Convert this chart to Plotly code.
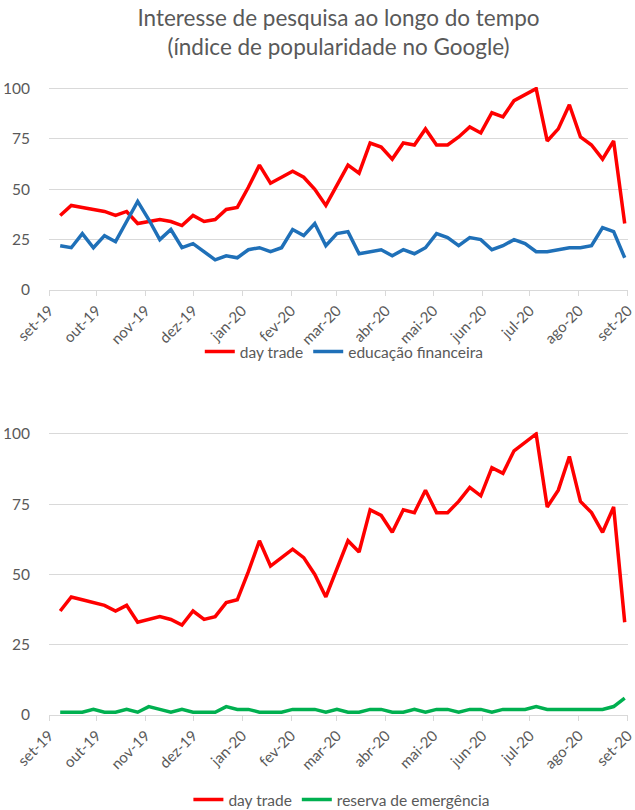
import pandas as pd
import plotly.graph_objects as go

# weekly dates (Google Trends weeks, Sundays)
weeks = pd.date_range("2019-09-08", "2020-08-30", freq="7D")

day_trade = [37, 42, 41, 40, 39, 37, 39, 33, 34, 35, 34, 32, 37, 34, 35, 40, 41, 51,
             62, 53, 56, 59, 56, 50, 42, 52, 62, 58, 73, 71, 65, 73, 72, 80, 72, 72,
             76, 81, 78, 88, 86, 94, 97, 100, 74, 80, 92, 76, 72, 65, 74, 33]

educacao_financeira = [22, 21, 28, 21, 27, 24, 34, 44, 35, 25, 30, 21, 23, 19, 15, 17, 16, 20,
                       21, 19, 21, 30, 27, 33, 22, 28, 29, 18, 19, 20, 17, 20, 18, 21, 28, 26,
                       22, 26, 25, 20, 22, 25, 23, 19, 19, 20, 21, 21, 22, 31, 29, 16]

reserva_emergencia = [1, 1, 1, 2, 1, 1, 2, 1, 3, 2, 1, 2, 1, 1, 1, 3, 2, 2,
                      1, 1, 1, 2, 2, 2, 1, 2, 1, 1, 2, 2, 1, 1, 2, 1, 2, 2,
                      1, 2, 2, 1, 2, 2, 2, 3, 2, 2, 2, 2, 2, 2, 3, 6]

month_ticks = pd.date_range("2019-09-01", "2020-09-01", freq="MS")
month_labels = ["set-19", "out-19", "nov-19", "dez-19", "jan-20", "fev-20", "mar-20",
                "abr-20", "mai-20", "jun-20", "jul-20", "ago-20", "set-20"]
y_ticks = [0, 25, 50, 75, 100]

title_text = "Interesse de pesquisa ao longo do tempo<br>(índice de popularidade no Google)"

RED = "#FF0000"
BLUE = "#1F70B8"
GREEN = "#00B050"
GREY_TXT = "#595959"
GRID = "#D9D9D9"
FONT = "Lato, Open Sans, sans-serif"

fig = go.Figure()
fig.add_trace(go.Scatter(x=weeks, y=day_trade, mode="lines", name="day trade",
                         line=dict(color=RED, width=3.5), xaxis="x", yaxis="y", legend="legend"))
fig.add_trace(go.Scatter(x=weeks, y=educacao_financeira, mode="lines", name="educação financeira",
                         line=dict(color=BLUE, width=3.5), xaxis="x", yaxis="y", legend="legend"))
fig.add_trace(go.Scatter(x=weeks, y=day_trade, mode="lines", name="day trade",
                         line=dict(color=RED, width=3.5), xaxis="x2", yaxis="y2", legend="legend2"))
fig.add_trace(go.Scatter(x=weeks, y=reserva_emergencia, mode="lines", name="reserva de emergência",
                         line=dict(color=GREEN, width=3.5), xaxis="x2", yaxis="y2", legend="legend2"))

H = 810
T, B = 87, 95
ph = H - T - B

def frac(px):
    return (H - B - px) / ph

x_range = [month_ticks[0] - pd.Timedelta(hours=2), month_ticks[-1] + pd.Timedelta(hours=2)]

xcommon = dict(type="date", range=x_range, tickmode="array",
               tickvals=list(month_ticks), ticktext=month_labels, tickangle=-45,
               showgrid=False, showline=True, linecolor=GRID, linewidth=1,
               ticks="outside", ticklen=5, tickcolor=GRID, automargin=False,
               ticklabeloverflow="allow",
               tickfont=dict(size=15, color=GREY_TXT, family=FONT), zeroline=False)
ycommon = dict(range=[0, 100.8], tickmode="array", tickvals=y_ticks, showgrid=True,
               gridcolor=GRID, gridwidth=1, zeroline=False, showline=False, automargin=False,
               tickfont=dict(size=15.5, color=GREY_TXT, family=FONT), ticklabelstandoff=18)

lfont = dict(size=15.5, color=GREY_TXT, family=FONT)

fig.update_layout(
    template="none",
    width=635, height=H,
    margin=dict(l=49, r=7, t=T, b=B, autoexpand=False),
    paper_bgcolor="white", plot_bgcolor="white",
    title=dict(text=title_text, x=0.5, xanchor="center", xref="paper",
               y=1 - 26 / H, yref="container", yanchor="middle", automargin=False,
               font=dict(size=22.5, color=GREY_TXT, family=FONT)),
    xaxis=dict(domain=[0, 1], anchor="y", **xcommon),
    yaxis=dict(domain=[frac(290), 1], anchor="x", **ycommon),
    xaxis2=dict(domain=[0, 1], anchor="y2", **xcommon),
    yaxis2=dict(domain=[0, frac(431.7)], anchor="x2", **ycommon),
    legend=dict(orientation="h", x=0.51, xanchor="center", y=frac(352), yanchor="middle",
                font=lfont, bgcolor="rgba(0,0,0,0)", tracegroupgap=0),
    legend2=dict(orientation="h", x=0.505, xanchor="center", y=frac(800), yanchor="middle",
                 font=lfont, bgcolor="rgba(0,0,0,0)", tracegroupgap=0),
    showlegend=True,
)

fig.write_html("out.html", config={"displayModeBar": False},
               post_script="document.body.style.margin='0';document.body.style.padding='0';")
